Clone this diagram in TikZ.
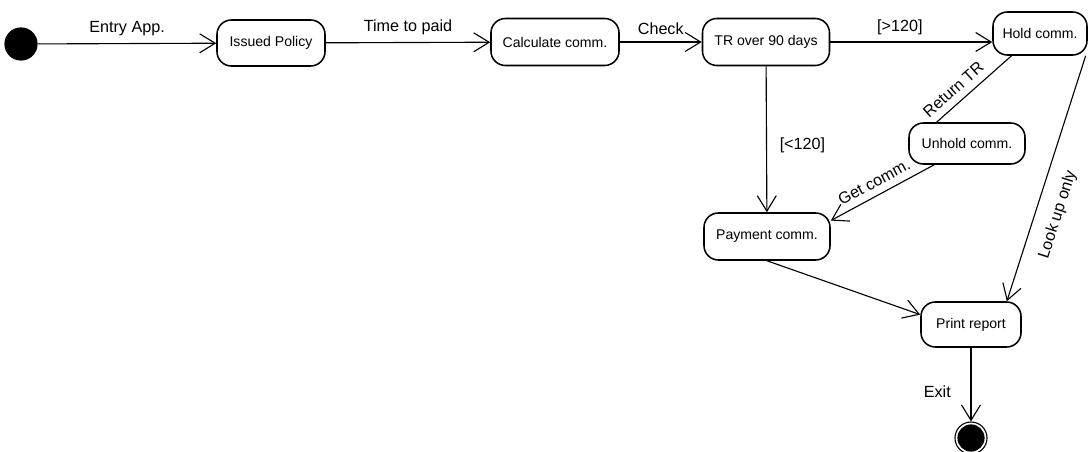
\documentclass[tikz,border=0pt]{standalone}
\usepackage{fontspec}
\setmainfont{Liberation Sans}
\usetikzlibrary{arrows.meta}
\begin{document}
\begin{tikzpicture}[x=0.025cm,y=-0.025cm,
  state/.style={draw, line width=1.1pt, rounded corners=0.36cm,
    font=\fontsize{10}{12}\selectfont, inner sep=0pt},
  trans/.style={draw, line width=0.8pt,
    -{Straight Barb[length=11pt,width=13.5pt]}},
  link/.style={draw, line width=0.8pt},
  lbl/.style={font=\fontsize{11.5}{13}\selectfont, inner sep=2pt}]
\useasboundingbox (0,0) rectangle (1088,452);

% initial and final pseudo-states
\node[circle, fill, minimum size=0.83cm, inner sep=0pt] (start) at (21,44) {};
\node[circle, draw, line width=0.8pt, minimum size=0.8cm, inner sep=0pt,
  path picture={\fill (path picture bounding box.center) circle (0.34cm);}]
  (end) at (971,438) {};

% states
\node[state, minimum width=2.7cm,  minimum height=1.15cm]  (issued) at (271,43)    {Issued Policy};
\node[state, minimum width=3.2cm,  minimum height=1.175cm] (calc)   at (555,42)    {Calculate comm.};
\node[state, minimum width=3.175cm,minimum height=1.175cm] (tr)     at (766,42)    {TR over 90 days};
\node[state, minimum width=2.35cm, minimum height=1.075cm] (hold)   at (1040,33.5) {Hold comm.};
\node[state, minimum width=2.9cm,  minimum height=1.025cm] (unhold) at (967,143.5) {Unhold comm.};
\node[state, minimum width=3.15cm, minimum height=1.175cm] (pay)    at (767,236.5) {Payment comm.};
\node[state, minimum width=2.5cm,  minimum height=1.125cm] (print)  at (971,324.5) {Print report};

% transitions
\draw[trans] (start) -- node[lbl, above=3pt] {Entry App.} (issued);
\draw[trans] (issued) -- node[lbl, above=3pt] {Time to paid} (calc);
\draw[trans] (calc) -- node[lbl, above=3pt] {Check} (tr);
\draw[trans] (tr.east) -- node[lbl, above=3pt, pos=0.43] {[>120]} (tr.east -| hold.west);
\draw[trans] (tr) -- node[lbl, right=7pt, pos=0.54] {[<120]} (pay);
\draw[link] (unhold.145) -- node[lbl, sloped, above=3pt, pos=0.34] {Return TR} (hold.218);
\draw[trans] (unhold.213) -- node[lbl, sloped, above=3pt, pos=0.52] {Get comm.} (pay.14);
\draw[trans] (hold.-26) -- node[lbl, sloped, below=8pt, pos=0.62] {Look up only} (print.33);
\draw[trans] (pay.south) -- (print.169);
\draw[trans] (print) -- node[lbl, left=12pt, pos=0.59] {Exit} (end);
\end{tikzpicture}
\end{document}
